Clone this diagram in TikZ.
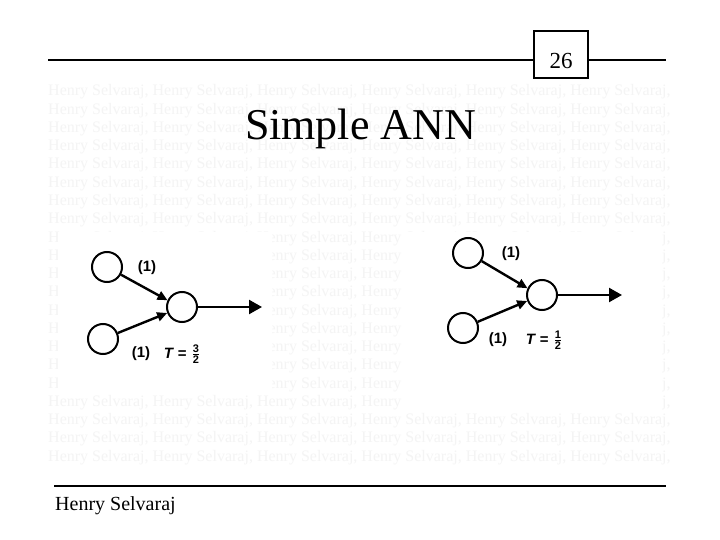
\documentclass[tikz,border=0pt]{standalone}
\usepackage{fontspec}
\setmainfont{Liberation Serif}
\newfontfamily\labfont{Liberation Sans}
\usetikzlibrary{arrows.meta, positioning}
\definecolor{cInk}{HTML}{000000}
\definecolor{cWm}{HTML}{F4F4F4}
\newcommand{\wmrow}{Henry Selvaraj, Henry Selvaraj, Henry Selvaraj, Henry Selvaraj, Henry Selvaraj, Henry Selvaraj,}
\tikzset{
  neuron/.style={circle, draw=cInk, line width=2pt, minimum size=30pt, inner sep=0pt},
  syn/.style={-{Triangle[length=10pt, width=9pt]}, line width=2.4pt, draw=cInk},
  outarr/.style={-{Triangle[length=13pt, width=14pt]}, line width=2.3pt, draw=cInk},
  wlab/.style={font=\labfont\bfseries\fontsize{15}{17}\selectfont, text=cInk, inner sep=1pt},
  thr/.style={font=\labfont\bfseries\fontsize{15}{17}\selectfont, text=cInk, inner sep=1pt},
  wm/.style={anchor=base west, text=cWm, font=\fontsize{16}{18}\selectfont, inner sep=0pt},
  slideline/.style={line width=2pt, draw=cInk},
  patch/.style={fill=white, draw=none},
}
\newcommand{\fdig}[1]{\mbox{\labfont\bfseries\fontsize{11}{11}\selectfont #1}}
\newcommand{\thrval}[2]{{\itshape T}\,\,=\,\,$\frac{\fdig{#1}}{\fdig{#2}}$}

\begin{document}
\begin{tikzpicture}[x=1pt, y=-1pt]
  \useasboundingbox[fill=white] (0,0) rectangle (720,540);

  % ---- watermark rows
  \foreach \r in {0,...,20}
    \node[wm] (wm\r) at (48,{96+18.25*\r}) {\wmrow};

  % ---- page number and header rule
  \node[draw=cInk, line width=2pt, minimum width=54pt, text height=37.5pt, text depth=9.75pt,
        inner sep=0pt, anchor=base, font=\fontsize{23}{25}\selectfont] (pagebox) at (561,68.25) {26};
  \coordinate (hl) at (48,60);
  \coordinate (hr) at (666,60);
  \draw[slideline] (hl) -- (hl -| pagebox.west);
  \draw[slideline] (hr -| pagebox.east) -- (hr);

  \node[anchor=base, font=\fontsize{44}{48}\selectfont] (title) at (360.5,140) {Simple ANN};

  % ---- white ground under the two nets
  \fill[patch] (58,232) rectangle (272,393);
  \fill[patch] (402,232) rectangle (662,410);

  % ---- left net, T = 3/2
  \node[neuron] (lin1) at (107,267) {};
  \node[neuron] (lin2) at (103,339) {};
  \node[neuron] (lout) at (182,307) {};
  \coordinate (lend) at (262,307);
  \draw[syn] (lin1) -- (lout.155);
  \draw[syn] (lin2) -- (lout.202);
  \draw[outarr] (lout) -- (lend);
  \node[wlab] (lw1) at (147,268) {(1)};
  \node[wlab] (lw2) at (141,354) {(1)};
  \node[thr] (lthr) at (182,354) {\thrval{3}{2}};

  % ---- right net, T = 1/2
  \node[neuron] (rin1) at (468,253) {};
  \node[neuron] (rin2) at (463,328) {};
  \node[neuron] (rout) at (542,295) {};
  \coordinate (rend) at (622,295);
  \draw[syn] (rin1) -- (rout.155);
  \draw[syn] (rin2) -- (rout.202);
  \draw[outarr] (rout) -- (rend);
  \node[wlab] (rw1) at (511,254) {(1)};
  \node[wlab] (rw2) at (498,340) {(1)};
  \node[thr] (rthr) at (544,340) {\thrval{1}{2}};

  % ---- footer
  \coordinate (fl) at (54,486);
  \coordinate (fr) at (666,486);
  \draw[slideline, line width=2.3pt] (fl) -- (fr);
  \node[anchor=base west, inner sep=0pt, font=\fontsize{20}{22}\selectfont] (footer) at (55,510) {Henry Selvaraj};
\end{tikzpicture}
\end{document}
